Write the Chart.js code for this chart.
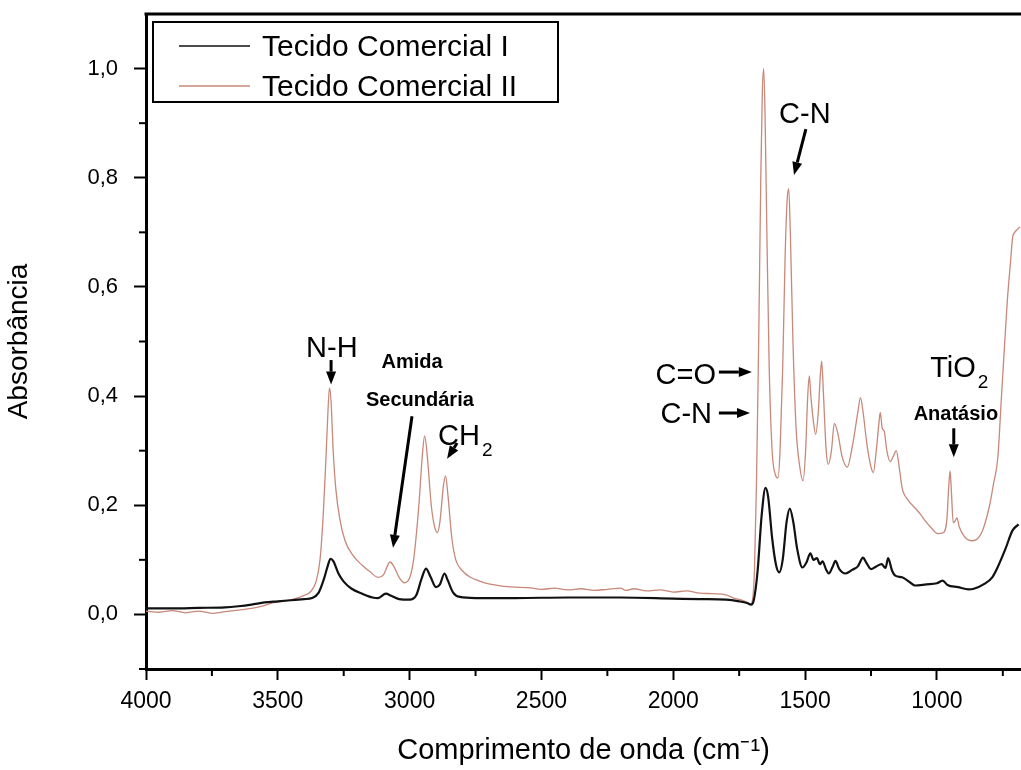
<!DOCTYPE html>
<html>
<head>
<meta charset="utf-8">
<title>Absorbância - Tecido Comercial I e II</title>
<script src="https://cdn.jsdelivr.net/npm/chart.js@4"></script>
<style>
    html, body { margin: 0; padding: 0; background: #fff; overflow: hidden; }
    #chart-box { width: 1021px; height: 770px; position: relative; }
</style>
</head>
<body>
<div id="chart-box"><canvas id="ftirChart"></canvas></div>
<script>
// wavenumbers (cm-1) and absorbance
const waveI = [4000, 3900, 3800, 3700, 3650, 3600, 3550, 3500, 3450, 3400, 3370, 3345, 3325, 3310, 3300, 3290, 3270, 3250, 3220, 3180,
    3140, 3120, 3090, 3070, 3040, 3000, 2975, 2955, 2938, 2920, 2900, 2885, 2868, 2855, 2835, 2810, 2750, 2600, 2400, 2200,
    2000, 1900, 1800, 1750, 1720, 1705, 1695, 1680, 1665, 1650, 1640, 1625, 1610, 1598, 1585, 1570, 1558, 1545, 1530, 1510,
    1495, 1480, 1468, 1455, 1444, 1434, 1420, 1410, 1395, 1385, 1370, 1347, 1320, 1300, 1280, 1268, 1250, 1230, 1210, 1195,
    1185, 1170, 1158, 1132, 1100, 1083, 1040, 1000, 978, 960, 920, 880, 860, 820, 790, 770, 740, 713, 690];
const absI = [0.011, 0.011, 0.012, 0.013, 0.015, 0.018, 0.022, 0.024, 0.026, 0.028, 0.030, 0.040, 0.065, 0.090, 0.102, 0.098, 0.075, 0.060, 0.047, 0.038,
    0.031, 0.030, 0.038, 0.034, 0.028, 0.027, 0.035, 0.065, 0.084, 0.068, 0.050, 0.055, 0.075, 0.062, 0.040, 0.032, 0.030, 0.030, 0.031, 0.031,
    0.029, 0.028, 0.027, 0.024, 0.021, 0.018, 0.025, 0.080, 0.180, 0.232, 0.215, 0.140, 0.090, 0.077, 0.100, 0.170, 0.194, 0.170, 0.120, 0.086,
    0.095, 0.112, 0.100, 0.103, 0.092, 0.097, 0.082, 0.075, 0.088, 0.098, 0.083, 0.075, 0.082, 0.088, 0.104, 0.095, 0.083, 0.088, 0.092, 0.085,
    0.103, 0.080, 0.071, 0.068, 0.058, 0.053, 0.055, 0.057, 0.062, 0.054, 0.050, 0.046, 0.047, 0.056, 0.068, 0.086, 0.120, 0.154, 0.165];

const waveII = [4000, 3950, 3900, 3850, 3800, 3750, 3700, 3650, 3600, 3560, 3520, 3480, 3440, 3400, 3375, 3355, 3340, 3328, 3318, 3310,
    3304, 3298, 3290, 3280, 3265, 3245, 3215, 3180, 3150, 3120, 3100, 3085, 3075, 3060, 3040, 3020, 3005, 2985, 2965, 2952,
    2943, 2933, 2918, 2905, 2895, 2885, 2872, 2864, 2855, 2840, 2825, 2800, 2770, 2740, 2700, 2650, 2600, 2550, 2500, 2450,
    2400, 2350, 2300, 2250, 2200, 2180, 2150, 2100, 2050, 2000, 1950, 1900, 1850, 1800, 1770, 1740, 1720, 1708, 1700, 1692,
    1684, 1676, 1668, 1662, 1657, 1652, 1645, 1636, 1625, 1612, 1603, 1595, 1585, 1576, 1568, 1562, 1556, 1546, 1534, 1520,
    1508, 1498, 1490, 1484, 1478, 1470, 1460, 1450, 1442, 1437, 1430, 1420, 1412, 1400, 1389, 1375, 1360, 1340, 1320, 1300,
    1290, 1280, 1265, 1250, 1241, 1230, 1220, 1215, 1207, 1200, 1190, 1177, 1165, 1154, 1143, 1132, 1110, 1083, 1060, 1045,
    1020, 997, 975, 962, 955, 950, 945, 938, 930, 924, 915, 895, 870, 850, 830, 818, 800, 785, 769, 755,
    750, 740, 733, 720, 713, 705, 695, 685];
const absII = [0.006, 0.004, 0.007, 0.003, 0.006, 0.002, 0.005, 0.008, 0.011, 0.015, 0.021, 0.024, 0.028, 0.035, 0.042, 0.060, 0.100, 0.180, 0.280, 0.370,
    0.415, 0.390, 0.300, 0.230, 0.175, 0.135, 0.108, 0.090, 0.078, 0.068, 0.072, 0.088, 0.096, 0.088, 0.068, 0.058, 0.062, 0.100, 0.200, 0.290,
    0.327, 0.290, 0.200, 0.160, 0.150, 0.170, 0.235, 0.254, 0.220, 0.140, 0.100, 0.080, 0.068, 0.062, 0.056, 0.052, 0.050, 0.049, 0.046, 0.048,
    0.045, 0.047, 0.044, 0.046, 0.048, 0.044, 0.047, 0.043, 0.045, 0.041, 0.043, 0.039, 0.038, 0.036, 0.030, 0.026, 0.022, 0.018, 0.025, 0.080,
    0.250, 0.500, 0.800, 0.960, 1.000, 0.920, 0.700, 0.450, 0.300, 0.255, 0.250, 0.300, 0.450, 0.650, 0.760, 0.780, 0.700, 0.500, 0.340, 0.270,
    0.245, 0.300, 0.400, 0.437, 0.400, 0.360, 0.330, 0.370, 0.440, 0.464, 0.400, 0.300, 0.275, 0.300, 0.350, 0.330, 0.290, 0.270, 0.310, 0.370,
    0.397, 0.370, 0.310, 0.270, 0.260, 0.300, 0.350, 0.370, 0.340, 0.336, 0.300, 0.280, 0.290, 0.300, 0.270, 0.232, 0.210, 0.195, 0.182, 0.172,
    0.158, 0.148, 0.150, 0.175, 0.235, 0.263, 0.225, 0.168, 0.172, 0.177, 0.160, 0.142, 0.135, 0.137, 0.150, 0.166, 0.200, 0.240, 0.287, 0.400,
    0.440, 0.520, 0.574, 0.650, 0.690, 0.700, 0.705, 0.710];

const seriesNames = ['Tecido Comercial I', 'Tecido Comercial II'];
const xTickValues = [4000, 3500, 3000, 2500, 2000, 1500, 1000];
const xMinorTicks = [3750, 3250, 2750, 2250, 1750, 1250, 750];
const yTickValues = [0.0, 0.2, 0.4, 0.6, 0.8, 1.0];
const yMinorTicks = [-0.1, 0.1, 0.3, 0.5, 0.7, 0.9];

// band labels, placed in data units (wavenumber, absorbance)
const bandLabels = [
    { text: 'N-H', x: 3295, y: 0.472, align: 'center' },
    { text: 'Amida', x: 2991, y: 0.452, align: 'center', bold: true },
    { text: 'Secundária', x: 2961, y: 0.381, align: 'center', bold: true },
    { text: 'CH', sub: '2', x: 2813, y: 0.310, align: 'center' },
    { text: 'C-N', x: 1501, y: 0.900, align: 'center' },
    { text: 'C=O', x: 1838, y: 0.422, align: 'right' },
    { text: 'C-N', x: 1853, y: 0.351, align: 'right' },
    { text: 'TiO', sub: '2', x: 939, y: 0.435, align: 'center' },
    { text: 'Anatásio', x: 928, y: 0.356, align: 'center', bold: true }
];
const bandArrows = [
    [3298, 0.466, 3298, 0.421],
    [2991, 0.363, 3063, 0.122],
    [2820, 0.314, 2858, 0.285],
    [1497, 0.889, 1542, 0.805],
    [1827, 0.444, 1702, 0.444],
    [1827, 0.369, 1709, 0.369],
    [936, 0.341, 936, 0.288]
];

const FONT = "'Liberation Sans', Arial, sans-serif";

function toPoints(xs, ys) {
    return xs.map((v, i) => ({ x: v, y: ys[i] }));
}

function drawArrow(ctx, x1, y1, x2, y2) {
    const ang = Math.atan2(y2 - y1, x2 - x1);
    const headLen = 13, headW = 5;
    const bx = x2 - headLen * Math.cos(ang), by = y2 - headLen * Math.sin(ang);
    ctx.beginPath();
    ctx.moveTo(x1, y1);
    ctx.lineTo(bx, by);
    ctx.stroke();
    ctx.beginPath();
    ctx.moveTo(x2, y2);
    ctx.lineTo(bx + headW * Math.sin(ang), by - headW * Math.cos(ang));
    ctx.lineTo(bx - headW * Math.sin(ang), by + headW * Math.cos(ang));
    ctx.closePath();
    ctx.fill();
}

const extrasPlugin = {
    id: 'extras',
    afterDraw(chart) {
        const { ctx, chartArea, scales } = chart;
        const xs = scales.x, ys = scales.y;
        ctx.save();
        ctx.strokeStyle = '#000';
        ctx.fillStyle = '#000';

        // top frame line
        ctx.lineWidth = 3;
        ctx.beginPath();
        ctx.moveTo(chartArea.left - 1.5, chartArea.top);
        ctx.lineTo(chartArea.right, chartArea.top);
        ctx.stroke();

        // minor ticks
        ctx.lineWidth = 2;
        xMinorTicks.forEach(v => {
            const px = xs.getPixelForValue(v);
            ctx.beginPath();
            ctx.moveTo(px, chartArea.bottom);
            ctx.lineTo(px, chartArea.bottom + 7);
            ctx.stroke();
        });
        yMinorTicks.forEach(v => {
            const py = ys.getPixelForValue(v);
            ctx.beginPath();
            ctx.moveTo(chartArea.left, py);
            ctx.lineTo(chartArea.left - 7, py);
            ctx.stroke();
        });

        // legend box
        const lx = chartArea.left + 7, ly = chartArea.top + 8;
        ctx.lineWidth = 2;
        ctx.strokeRect(lx, ly, 405, 80);
        ctx.font = '30px ' + FONT;
        ctx.textAlign = 'left';
        ctx.textBaseline = 'alphabetic';
        chart.data.datasets.forEach((ds, i) => {
            const rowY = ly + 24 + i * 40;
            ctx.strokeStyle = ds.borderColor;
            ctx.lineWidth = 1.3;
            ctx.beginPath();
            ctx.moveTo(lx + 26, rowY);
            ctx.lineTo(lx + 97, rowY);
            ctx.stroke();
            ctx.fillStyle = '#000';
            ctx.fillText(ds.label, lx + 109, rowY + 10);
        });

        // band labels
        ctx.fillStyle = '#000';
        bandLabels.forEach(l => {
            const px = xs.getPixelForValue(l.x), py = ys.getPixelForValue(l.y);
            ctx.font = (l.bold ? 'bold 20px ' : '29px ') + FONT;
            ctx.textAlign = l.align;
            ctx.fillText(l.text, px, py);
            if (l.sub) {
                const w = ctx.measureText(l.text).width;
                const endX = l.align === 'center' ? px + w / 2 : (l.align === 'right' ? px : px + w);
                ctx.font = '19px ' + FONT;
                ctx.textAlign = 'left';
                ctx.fillText(l.sub, endX + 2, py + 11);
            }
        });

        // arrows
        ctx.strokeStyle = '#000';
        ctx.lineWidth = 3;
        bandArrows.forEach(a => {
            drawArrow(ctx, xs.getPixelForValue(a[0]), ys.getPixelForValue(a[1]),
                xs.getPixelForValue(a[2]), ys.getPixelForValue(a[3]));
        });
        ctx.restore();
    }
};

const ctx = document.getElementById('ftirChart').getContext('2d');
new Chart(ctx, {
    type: 'line',
    data: {
        datasets: [{
            label: seriesNames[0],
            data: toPoints(waveI, absI),
            borderColor: '#111111',
            borderWidth: 2.2,
            pointRadius: 0,
            cubicInterpolationMode: 'monotone'
        }, {
            label: seriesNames[1],
            data: toPoints(waveII, absII),
            borderColor: '#c8887a',
            borderWidth: 1.3,
            pointRadius: 0,
            cubicInterpolationMode: 'monotone'
        }]
    },
    options: {
        responsive: true,
        maintainAspectRatio: false,
        animation: false,
        layout: { padding: { top: 14, right: 0, left: 0, bottom: 0 } },
        plugins: {
            legend: { display: false },
            tooltip: { enabled: false }
        },
        scales: {
            x: {
                type: 'linear',
                reverse: true,
                min: 681,
                max: 4000,
                afterBuildTicks: s => { s.ticks = xTickValues.map(v => ({ value: v })); },
                afterFit: s => { s.height = 101; s.paddingLeft = 0; s.paddingRight = 0; },
                grid: { display: true, drawOnChartArea: false, drawTicks: true, tickLength: 11, tickWidth: 2, tickColor: '#000' },
                border: { display: true, color: '#000', width: 3 },
                ticks: {
                    color: '#000',
                    font: { family: FONT, size: 23 },
                    padding: 8,
                    maxRotation: 0,
                    callback: v => String(v)
                },
                title: {
                    display: true,
                    text: 'Comprimento de onda (cm⁻¹)',
                    color: '#000',
                    font: { family: FONT, size: 29 },
                    padding: { top: 0, bottom: 2 }
                }
            },
            y: {
                type: 'linear',
                min: -0.1,
                max: 1.1,
                afterBuildTicks: s => { s.ticks = yTickValues.map(v => ({ value: v })); },
                afterFit: s => { s.width = 146; s.paddingTop = 0; s.paddingBottom = 0; },
                grid: { display: true, drawOnChartArea: false, drawTicks: true, tickLength: 12, tickWidth: 2, tickColor: '#000' },
                border: { display: true, color: '#000', width: 3 },
                ticks: {
                    color: '#000',
                    font: { family: FONT, size: 22 },
                    padding: 16,
                    callback: v => v.toFixed(1).replace('.', ',')
                },
                title: {
                    display: true,
                    text: 'Absorbância',
                    color: '#000',
                    font: { family: FONT, size: 28 },
                    padding: { top: 2, bottom: 0 }
                }
            }
        }
    },
    plugins: [extrasPlugin]
});
</script>
</body>
</html>
